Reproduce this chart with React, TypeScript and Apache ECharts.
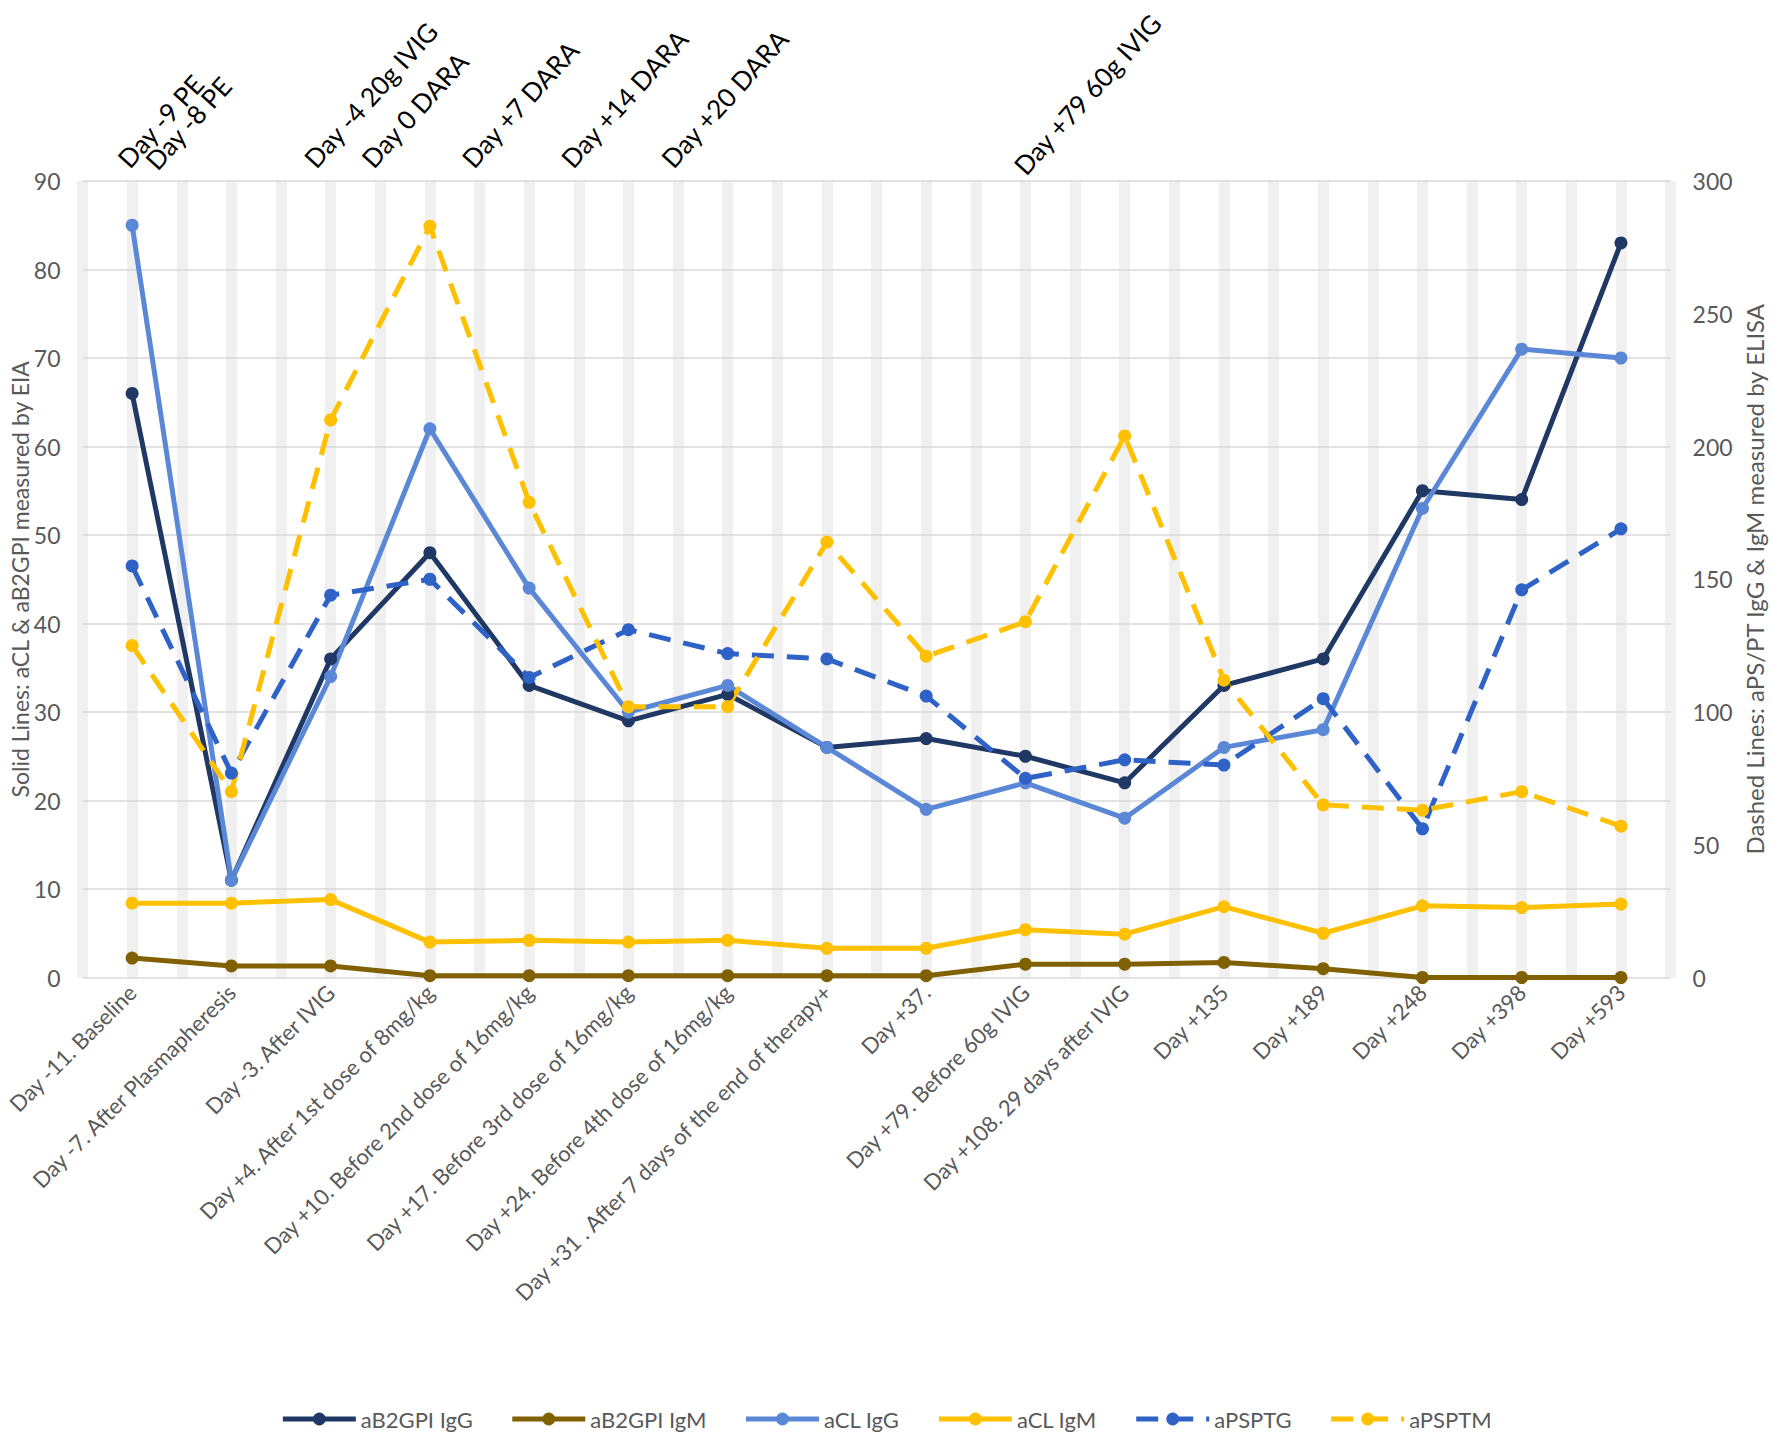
import React, { useEffect, useRef } from "react";
import * as echarts from "echarts";

const categories = [
  "Day -11. Baseline",
  "Day -7. After Plasmapheresis",
  "Day -3. After IVIG",
  "Day +4. After 1st dose of 8mg/kg",
  "Day +10. Before 2nd dose of 16mg/kg",
  "Day +17. Before 3rd dose of 16mg/kg",
  "Day +24. Before 4th dose of 16mg/kg",
  "Day +31 . After 7 days of the end of therapy+",
  "Day +37.",
  "Day +79. Before 60g IVIG",
  "Day +108. 29 days after IVIG",
  "Day +135",
  "Day +189",
  "Day +248",
  "Day +398",
  "Day +593",
];

const aB2GPI_IgG = [66, 11, 36, 48, 33, 29, 32, 26, 27, 25, 22, 33, 36, 55, 54, 83];
const aB2GPI_IgM = [2.2, 1.3, 1.3, 0.2, 0.2, 0.2, 0.2, 0.2, 0.2, 1.5, 1.5, 1.7, 1.0, 0, 0, 0];
const aCL_IgG = [85, 11, 34, 62, 44, 30, 33, 26, 19, 22, 18, 26, 28, 53, 71, 70];
const aCL_IgM = [8.4, 8.4, 8.8, 4.0, 4.2, 4.0, 4.2, 3.3, 3.3, 5.4, 4.9, 8.0, 5.0, 8.1, 7.9, 8.3];
const aPSPTG = [155, 77, 144, 150, 113, 131, 122, 120, 106, 75, 82, 80, 105, 56, 146, 169];
const aPSPTM = [125, 70, 210, 283, 179, 102, 102, 164, 121, 134, 204, 112, 65, 63, 70, 57];

const leftTicks = { min: 0, max: 90, interval: 10 };
const rightTicks = { min: 0, max: 300, interval: 50 };

// Treatment annotations above the plot (text) and their position in category units
const annotationLabels = [
  "Day -9 PE",
  "Day -8 PE",
  "Day -4 20g IVIG",
  "Day 0 DARA",
  "Day +7 DARA",
  "Day +14 DARA",
  "Day +20 DARA",
  "Day +79 60g IVIG",
];
const annotationCatPos = [0.0, 0.28, 1.88, 2.46, 3.47, 4.47, 5.48, 9.03];
const annotationBaseY = [172, 174, 172, 172, 172, 172, 172, 179];

const W = 1772;
const H = 1434;
const GRID = { left: 82.5, right: 101.4, top: 181, bottom: 456.5 };
const FONT = "Lato, 'Noto Sans', sans-serif";
const GREY = "#595959";

const COLORS = {
  b2IgG: "#203864",
  b2IgM: "#806000",
  clIgG: "#5B88D6",
  clIgM: "#FFC000",
  psG: "#2F62C6",
  psM: "#FFC000",
};

export default function App() {
  const ref = useRef<HTMLDivElement>(null);

  useEffect(() => {
    if (!ref.current) return;
    const chart = echarts.init(ref.current, null, { renderer: "svg", width: W, height: H });
    const band = (W - GRID.left - GRID.right) / categories.length;
    const angle = (48 * Math.PI) / 180;

    const mkLine = (name: string, data: number[], color: string, yIdx: number, dashed: boolean) => ({
      name,
      type: "line",
      data,
      xAxisIndex: 0,
      yAxisIndex: yIdx,
      symbol: "circle",
      symbolSize: 13,
      showSymbol: true,
      lineStyle: {
        color,
        width: 5,
        type: dashed ? [22, 13] : "solid",
      },
      itemStyle: { color },
      emphasis: { disabled: true },
    });

    const option: any = {
      animation: false,
      backgroundColor: "#ffffff",
      textStyle: { fontFamily: FONT },
      grid: {
        left: GRID.left,
        right: GRID.right,
        top: GRID.top,
        bottom: GRID.bottom,
        outerBoundsMode: "none",
      },
      legend: {
        left: "center",
        top: 1403,
        itemWidth: 73,
        itemHeight: 16,
        itemGap: 37,
        lineStyle: { width: 5 },
        textStyle: { fontFamily: FONT, fontSize: 22, color: GREY },
        data: ["aB2GPI IgG", "aB2GPI IgM", "aCL IgG", "aCL IgM", "aPSPTG", "aPSPTM"],
      },
      xAxis: [
        {
          type: "category",
          data: categories,
          boundaryGap: true,
          axisLine: { show: false },
          axisTick: { show: false },
          splitLine: { show: false },
          axisLabel: {
            rotate: 45,
            interval: 0,
            margin: 11,
            color: GREY,
            fontSize: 22,
            fontFamily: FONT,
          },
        },
        {
          type: "value",
          min: 0,
          max: categories.length * 2,
          interval: 1,
          position: "top",
          axisLine: { show: false },
          axisTick: { show: false },
          axisLabel: { show: false },
          splitLine: { show: true, lineStyle: { color: "#f0f0f0", width: 11 } },
          z: 0,
        },
      ],
      yAxis: [
        {
          type: "value",
          ...leftTicks,
          position: "left",
          z: 2,
          name: "Solid Lines: aCL & aB2GPI measured by EIA",
          nameLocation: "middle",
          nameRotate: 90,
          nameGap: 51,
          nameMoveOverlap: false,
          nameTextStyle: { color: GREY, fontSize: 23, fontFamily: FONT },
          axisLine: { show: false },
          axisTick: { show: false },
          axisLabel: { color: GREY, fontSize: 23, margin: 22, fontFamily: FONT },
          splitLine: { show: true, lineStyle: { color: "#d9d9d9", width: 1.5 } },
        },
        {
          type: "value",
          ...rightTicks,
          position: "right",
          z: 2,
          name: "Dashed Lines: aPS/PT IgG & IgM measured by ELISA",
          nameLocation: "middle",
          nameRotate: 90,
          nameGap: 72,
          nameMoveOverlap: false,
          nameTextStyle: { color: GREY, fontSize: 24, fontFamily: FONT },
          axisLine: { show: false },
          axisTick: { show: false },
          axisLabel: { color: GREY, fontSize: 23, margin: 22, fontFamily: FONT },
          splitLine: { show: false },
        },
      ],
      series: [
        mkLine("aB2GPI IgG", aB2GPI_IgG, COLORS.b2IgG, 0, false),
        mkLine("aB2GPI IgM", aB2GPI_IgM, COLORS.b2IgM, 0, false),
        mkLine("aCL IgG", aCL_IgG, COLORS.clIgG, 0, false),
        mkLine("aCL IgM", aCL_IgM, COLORS.clIgM, 0, false),
        mkLine("aPSPTG", aPSPTG, COLORS.psG, 1, true),
        mkLine("aPSPTM", aPSPTM, COLORS.psM, 1, true),
      ],
      graphic: annotationLabels.map((txt, i) => ({
        type: "text",
        x: GRID.left + (annotationCatPos[i] + 0.5) * band,
        y: annotationBaseY[i],
        rotation: angle,
        style: {
          text: txt,
          fill: "#000000",
          fontSize: 26,
          fontFamily: FONT,
          align: "left",
          verticalAlign: "bottom",
          textAlign: "left",
          textVerticalAlign: "bottom",
        },
      })),
    };

    chart.setOption(option);
    return () => chart.dispose();
  }, []);

  return (
    <div
      ref={ref}
      style={{ position: "absolute", left: 0, top: 0, width: W, height: H, background: "#fff" }}
    />
  );
}
